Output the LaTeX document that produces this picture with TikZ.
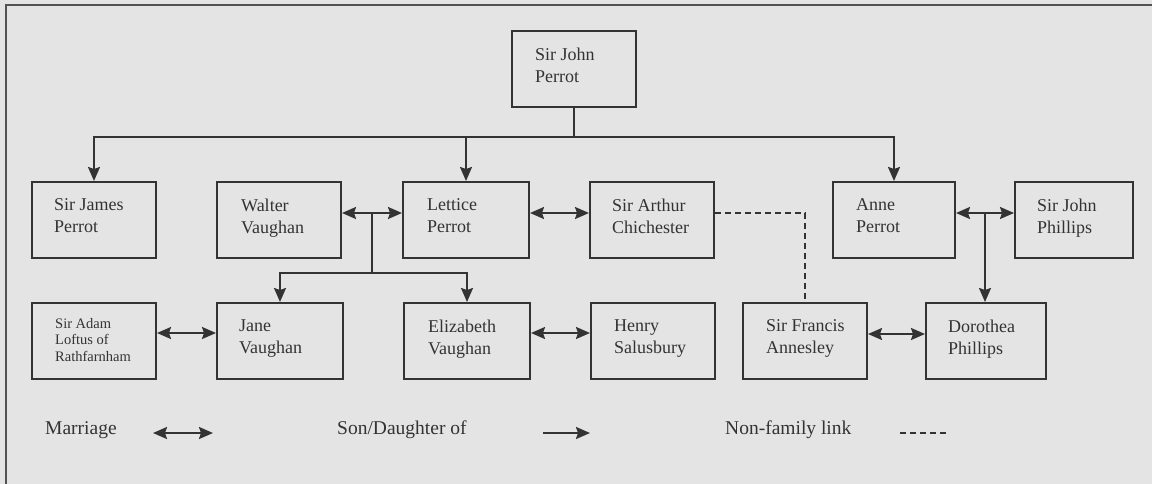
\documentclass[tikz,border=0pt]{standalone}
\usepackage{fontspec}
\setmainfont{Liberation Serif}
\usetikzlibrary{arrows.meta,calc}
\definecolor{bg}{HTML}{E4E4E4}
\definecolor{ink}{HTML}{333333}
\tikzset{
  person/.style={draw=ink, line width=2pt, rectangle, minimum height=76pt, inner sep=0pt},
  ptext/.style={anchor=north west, inner sep=0pt, align=left, text=ink, font=\fontsize{18}{22}\selectfont},
  stext/.style={anchor=north west, inner sep=0pt, align=left, text=ink, font=\fontsize{14.5}{16.5}\selectfont},
  legtext/.style={anchor=base west, inner sep=0pt, text=ink, font=\fontsize{19.5}{23}\selectfont},
  link/.style={draw=ink, line width=2pt},
  son/.style={link, -{Stealth[length=14pt,width=12pt,inset=2pt]}},
  marr/.style={link, {Stealth[length=14pt,width=12pt,inset=2pt]}-{Stealth[length=14pt,width=12pt,inset=2pt]}},
  nonfam/.style={link, dash pattern=on 6pt off 4pt},
  frame/.style={draw=ink!85, line width=2pt}
}
\begin{document}
\begin{tikzpicture}[x=1pt,y=-1pt]
\fill[bg] (0,0) rectangle (1152,484);
\useasboundingbox (0,0) rectangle (1152,484);
\draw[frame] (6,484) -- (6,5) -- (1152,5);

% row 0
\node[person, minimum width=124pt] (john) at (574,69) {};
% row 1
\node[person, minimum width=124pt] (james) at (94,220) {};
\node[person, minimum width=124pt] (walter) at (279,220) {};
\node[person, minimum width=126pt] (lettice) at (466,220) {};
\node[person, minimum width=124pt] (arthur) at (652,220) {};
\node[person, minimum width=122pt] (anne) at (894,220) {};
\node[person, minimum width=118pt] (phillips) at (1074,220) {};
% row 2
\node[person, minimum width=124pt] (adam) at (94,341) {};
\node[person, minimum width=126pt] (jane) at (280,341) {};
\node[person, minimum width=126pt] (elizabeth) at (467,341) {};
\node[person, minimum width=124pt] (henry) at (653,341) {};
\node[person, minimum width=124pt] (francis) at (805,341) {};
\node[person, minimum width=120pt] (dorothea) at (986,341) {};

% texts
\node[ptext] (johnT) at ($(john.north west)+(24,17.7)$) {Sir John\\Perrot};
\node[ptext] (jamesT) at ($(james.north west)+(23,17.7)$) {Sir James\\Perrot};
\node[ptext] (walterT) at ($(walter.north west)+(25,17.7)$) {Walter\\Vaughan};
\node[ptext] (letticeT) at ($(lettice.north west)+(25,17.7)$) {Lettice\\Perrot};
\node[ptext] (arthurT) at ($(arthur.north west)+(23,17.7)$) {Sir Arthur\\Chichester};
\node[ptext] (anneT) at ($(anne.north west)+(24,17.7)$) {Anne\\Perrot};
\node[ptext] (phillipsT) at ($(phillips.north west)+(23,17.7)$) {Sir John\\Phillips};
\node[stext] (adamT) at ($(adam.north west)+(24,16)$) {Sir Adam\\Loftus of\\Rathfarnham};
\node[ptext] (janeT) at ($(jane.north west)+(23,17.7)$) {Jane\\Vaughan};
\node[ptext] (elizabethT) at ($(elizabeth.north west)+(25,17.7)$) {Elizabeth\\Vaughan};
\node[ptext] (henryT) at ($(henry.north west)+(24,17.7)$) {Henry\\Salusbury};
\node[ptext] (francisT) at ($(francis.north west)+(24,17.7)$) {Sir Francis\\Annesley};
\node[ptext] (dorotheaT) at ($(dorothea.north west)+(23,17.7)$) {Dorothea\\Phillips};

% Sir John Perrot's children
\coordinate (bus) at (574,137);
\draw[link] (john.south) -- (bus);
\draw[son] (bus) -| (james.north);
\draw[son] (bus) -| (lettice.north);
\draw[son] (bus) -| (anne.north);

% Walter -- Lettice
\draw[marr] ([yshift=7pt]walter.east) -- ([yshift=7pt]lettice.west);
\coordinate (wl) at ($([yshift=7pt]walter.east)!0.5!([yshift=7pt]lettice.west)$);
\coordinate (wlb) at ($(wl)+(0,60)$);
\draw[link] (wl) -- (wlb);
\draw[son] (wlb) -| (jane.north);
\draw[son] (wlb) -| (elizabeth.north);

% Lettice -- Arthur
\draw[marr] ([yshift=7pt]lettice.east) -- ([yshift=7pt]arthur.west);
\draw[nonfam] ([yshift=7pt]arthur.east) -| (francis.north);

% Anne -- Phillips
\draw[marr] ([yshift=7pt]anne.east) -- ([yshift=7pt]phillips.west);
\coordinate (ap) at ($([yshift=7pt]anne.east)!0.5!([yshift=7pt]phillips.west)$);
\draw[son] (ap) -- (ap |- dorothea.north);

% row 2 marriages
\draw[marr] ([yshift=8pt]adam.east) -- ([yshift=8pt]jane.west);
\draw[marr] ([yshift=8pt]elizabeth.east) -- ([yshift=8pt]henry.west);
\draw[marr] ([yshift=7pt]francis.east) -- ([yshift=7pt]dorothea.west);

% legend
\node[legtext] (legM) at (45,434) {Marriage};
\coordinate (m1) at (153,433);
\coordinate (m2) at (213,433);
\draw[marr] (m1) -- (m2);
\node[legtext] (legS) at (337,434) {Son/Daughter of};
\coordinate (s1) at (543,433);
\coordinate (s2) at (590,433);
\draw[son] (s1) -- (s2);
\node[legtext] (legN) at (725,434) {Non-family link};
\coordinate (n1) at (900,433);
\coordinate (n2) at (948,433);
\draw[nonfam] (n1) -- (n2);
\end{tikzpicture}
\end{document}
